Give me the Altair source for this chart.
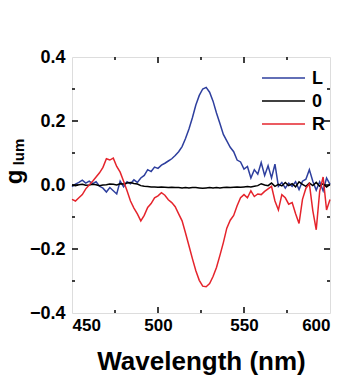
import altair as alt
import pandas as pd

wavelength = list(range(450, 601, 2))

g_L = [-0.005, 0.003, 0.008, 0.015, 0.006, 0.012, 0.004, 0.010, -0.004, -0.010,
       -0.022, -0.008, -0.018, -0.028, 0.012, -0.006, 0.010, 0.004, 0.016, 0.008,
       0.022, 0.030, 0.048, 0.042, 0.056, 0.052, 0.062, 0.068, 0.075, 0.082,
       0.092, 0.104, 0.120, 0.145, 0.175, 0.210, 0.250, 0.280, 0.300, 0.305,
       0.290, 0.262, 0.225, 0.192, 0.158, 0.138, 0.118, 0.104, 0.078, 0.072,
       0.050, 0.058, 0.022, 0.048, 0.034, 0.070, 0.030, 0.060, 0.022, 0.065,
       -0.004, 0.008, -0.010, 0.006, -0.004, 0.010, -0.014, 0.012, 0.018, 0.048,
       0.012, -0.016, 0.010, -0.018, 0.022, 0.002]

g_R = [-0.045, -0.050, -0.040, -0.030, -0.012, 0.000, 0.012, 0.025, 0.038, 0.055,
       0.082, 0.078, 0.084, 0.058, 0.040, 0.012, -0.018, -0.050, -0.072, -0.090,
       -0.112, -0.095, -0.070, -0.058, -0.040, -0.034, -0.024, -0.032, -0.046, -0.055,
       -0.068, -0.090, -0.112, -0.150, -0.190, -0.230, -0.268, -0.298, -0.316, -0.318,
       -0.308, -0.286, -0.258, -0.220, -0.180, -0.135, -0.110, -0.095, -0.065, -0.040,
       -0.030, -0.040, -0.018, -0.036, -0.028, -0.030, -0.020, -0.012, -0.004, -0.050,
       -0.078, -0.030, -0.040, -0.060, -0.055, -0.090, -0.120, -0.045, -0.010, 0.004,
       -0.080, -0.140, -0.020, 0.025, -0.078, -0.045]

g_0 = [0.000, -0.002, 0.001, 0.002, -0.001, 0.000, 0.002, 0.001, -0.002, 0.000,
       0.001, 0.003, 0.002, 0.000, 0.004, 0.003, 0.006, 0.008, 0.005, 0.003,
       -0.002, -0.004, -0.005, -0.006, -0.006, -0.007, -0.006, -0.007, -0.008, -0.007,
       -0.008, -0.008, -0.009, -0.008, -0.009, -0.008, -0.008, -0.009, -0.010, -0.009,
       -0.008, -0.009, -0.008, -0.009, -0.008, -0.007, -0.008, -0.007, -0.006, -0.007,
       -0.006, -0.005, -0.006, -0.004, -0.002, 0.004, 0.000, -0.002, 0.006, -0.004,
       0.002, -0.003, 0.008, -0.002, 0.004, -0.006, 0.010, 0.002, -0.004, 0.006,
       -0.002, 0.008, -0.004, 0.004, -0.006, 0.002]

series_names = ["L", "0", "R"]
series_colors = ["#2e3f9e", "#000000", "#e5242c"]

y_major = [-0.2, 0.0, 0.2]
y_minor = [-0.3, -0.1, 0.1, 0.3]
x_major = [500, 550]
x_minor = [475, 525, 575]

rows = []
for name, vals in zip(series_names, [g_L, g_0, g_R]):
    for w, v in zip(wavelength, vals):
        rows.append({"wl": w, "g": v, "series": name})
df = pd.DataFrame(rows)

W, H = 258, 256
FONT = "Liberation Sans"

xscale = alt.Scale(domain=[450, 600], nice=False, zero=False)
yscale = alt.Scale(domain=[-0.4, 0.4], nice=False, zero=False)
cscale = alt.Scale(domain=series_names, range=series_colors)

lines = alt.Chart(df).mark_line(strokeWidth=1.5).encode(
    x=alt.X("wl:Q", scale=xscale,
            axis=alt.Axis(values=[450, 500, 550, 600], title="Wavelength (nm)",
                          ticks=False, domain=False, grid=False, labelPadding=4,
                          labelFontSize=17, labelFontWeight="bold", labelFont=FONT,
                          titleFontSize=26, titleFontWeight="bold", titleFont=FONT,
                          titlePadding=15, labelColor="black", titleColor="black")),
    y=alt.Y("g:Q", scale=yscale,
            axis=alt.Axis(values=[-0.4, -0.2, 0.0, 0.2, 0.4], format=".1f", title=None,
                          ticks=False, domain=False, grid=False, labelPadding=7,
                          labelFontSize=18, labelFontWeight="bold", labelFont=FONT,
                          labelColor="black")),
    color=alt.Color("series:N", scale=cscale, legend=None),
    order=alt.Order("series:N"),
)

ymaj = pd.DataFrame({"v": y_major})
ymin = pd.DataFrame({"v": y_minor})
xmaj = pd.DataFrame({"v": x_major})
xmin = pd.DataFrame({"v": x_minor})

def yticks(d, x0, x1):
    return alt.Chart(d).mark_rule(color="black", strokeWidth=1.5).encode(
        y=alt.Y("v:Q", scale=yscale), x=alt.value(x0), x2=alt.value(x1))

def xticks(d, y0, y1):
    return alt.Chart(d).mark_rule(color="black", strokeWidth=1.5).encode(
        x=alt.X("v:Q", scale=xscale), y=alt.value(y0), y2=alt.value(y1))

ticks = [
    yticks(ymaj, 0, 6), yticks(ymin, 0, 3),
    yticks(ymaj, W - 6, W), yticks(ymin, W - 3, W),
    xticks(xmaj, H - 6, H), xticks(xmin, H - 3, H),
    xticks(xmaj, 0, 6), xticks(xmin, 0, 3),
]

# legend (manual, to match the compact row spacing of the reference)
legend_rows = [21, 44, 67]
legend_layers = []
for name, ly in zip(series_names, legend_rows):
    ld = pd.DataFrame({"series": [name]})
    legend_layers.append(
        alt.Chart(ld).mark_rule(strokeWidth=1.5).encode(
            x=alt.value(190), x2=alt.value(233), y=alt.value(ly),
            color=alt.Color("series:N", scale=cscale, legend=None)))
    legend_layers.append(
        alt.Chart(ld).mark_text(fontSize=18, fontWeight="bold", font=FONT, color="black",
                                align="left", baseline="middle").encode(
            text="series:N", x=alt.value(240), y=alt.value(ly + 1)))

title_g = alt.Chart(pd.DataFrame({"t": ["g"]})).mark_text(
    angle=270, fontSize=24, fontWeight="bold", font=FONT, color="black",
    align="center", baseline="alphabetic").encode(
    text="t:N", x=alt.value(-50), y=alt.value(120))
title_sub = alt.Chart(pd.DataFrame({"t": ["lum"]})).mark_text(
    angle=270, fontSize=15, fontWeight="bold", font=FONT, color="black",
    align="center", baseline="alphabetic").encode(
    text="t:N", x=alt.value(-48), y=alt.value(95))

chart = alt.layer(lines, *ticks, *legend_layers, title_g, title_sub).properties(
    width=W, height=H,
    autosize=alt.AutoSizeParams(type="none"),
    padding={"left": 72, "top": 57, "right": 22, "bottom": 67},
).configure_view(stroke="black", strokeWidth=1.5).configure(background="white")

chart.save("out.html", embed_options={"renderer": "svg", "actions": False})
